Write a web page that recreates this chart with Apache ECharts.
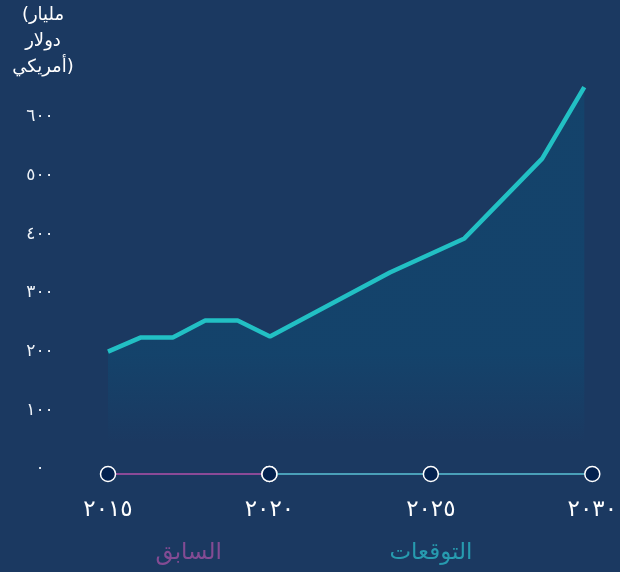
<!DOCTYPE html>
<html>
<head>
<meta charset="utf-8">
<script src="https://cdn.jsdelivr.net/npm/echarts@6/dist/echarts.min.js"></script>
<style>
html,body{margin:0;padding:0;background:#1b3961;}
#chart{width:620px;height:572px;}
</style>
</head>
<body>
<div id="chart"></div>
<script>
// ---- data ----
const years = [2015, 2016, 2017, 2018, 2019, 2020, 2023.7, 2026, 2028.4, 2029.7];
const values = [200, 224, 224, 253, 253, 226, 335, 393, 529, 651];
const timelineYears = [2015, 2020, 2025, 2030];
const pastRange = [2015, 2020];
const forecastRange = [2020, 2025, 2030];
const phaseNames = ['السابق', 'التوقعات'];
const yTickMax = 600;
const yTickStep = 100;
const yAxisTitle = '(مليار\nدولار\nأمريكي)';

const FONT = '"DejaVu Sans", "Noto Sans", sans-serif';
const toArabic = n => String(n).replace(/\d/g, d => '٠١٢٣٤٥٦٧٨٩'[+d]);

const chart = echarts.init(document.getElementById('chart'), null, {renderer: 'canvas'});

const mid = arr => (arr[0] + arr[arr.length - 1]) / 2;

const option = {
  backgroundColor: '#1b3961',
  animation: false,
  textStyle: {fontFamily: FONT},
  graphic: [{
    type: 'text',
    x: 43,
    y: 2,
    style: {
      text: yAxisTitle,
      fill: '#ffffff',
      font: '18px ' + FONT,
      align: 'center',
      verticalAlign: 'top',
      lineHeight: 26
    }
  }],
  grid: [
    {left: 108, right: 26, top: 117, bottom: 103},
    {left: 108, right: 26, top: 470, height: 8}
  ],
  xAxis: [
    {gridIndex: 0, type: 'value', min: 2015, max: 2030, show: false},
    {
      gridIndex: 1, type: 'value', min: 2015, max: 2030, interval: 5,
      axisLine: {show: false}, axisTick: {show: false}, splitLine: {show: false},
      axisLabel: {
        color: '#ffffff', fontSize: 23, fontWeight: 'normal', margin: 21,
        fontFamily: FONT,
        formatter: v => toArabic(v)
      }
    }
  ],
  yAxis: [
    {
      gridIndex: 0, type: 'value', min: 0, max: yTickMax, interval: yTickStep,
      axisLine: {show: false}, axisTick: {show: false}, splitLine: {show: false},
      axisLabel: {
        color: '#eef2f7', fontSize: 17, margin: 68, align: 'center',
        fontFamily: FONT,
        formatter: v => toArabic(v)
      }
    },
    {gridIndex: 1, type: 'value', min: -1, max: 1, show: false}
  ],
  series: [
    {
      type: 'line',
      xAxisIndex: 0, yAxisIndex: 0,
      data: years.map((y, i) => [y, values[i]]),
      symbol: 'none',
      clip: false,
      lineStyle: {color: '#22c0c4', width: 4.5},
      areaStyle: {
        color: new echarts.graphic.LinearGradient(0, 0, 0, 1, [
          {offset: 0, color: 'rgba(17,71,111,1)'},
          {offset: 0.7, color: 'rgba(17,71,111,1)'},
          {offset: 0.93, color: 'rgba(17,71,111,0)'}
        ])
      },
      z: 3
    },
    {
      type: 'line',
      xAxisIndex: 1, yAxisIndex: 1,
      data: pastRange.map(y => [y, 0]),
      symbol: 'circle', symbolSize: 15, clip: false,
      lineStyle: {color: '#8b4a97', width: 2},
      itemStyle: {color: '#03214f', borderColor: '#ffffff', borderWidth: 1.5},
      z: 4
    },
    {
      type: 'line',
      xAxisIndex: 1, yAxisIndex: 1,
      data: forecastRange.map(y => [y, 0]),
      symbol: 'circle', symbolSize: 15, clip: false,
      lineStyle: {color: '#4a9fb8', width: 2},
      itemStyle: {color: '#03214f', borderColor: '#ffffff', borderWidth: 1.5},
      z: 5
    },
    {
      type: 'scatter',
      xAxisIndex: 1, yAxisIndex: 1,
      symbolSize: 0, clip: false, silent: true,
      data: [
        {value: [mid(pastRange), 0], name: phaseNames[0], label: {color: '#9e50a0'}},
        {value: [mid(forecastRange), 0], name: phaseNames[1], label: {color: '#2ab4c3'}}
      ],
      label: {
        show: true, position: 'bottom', distance: 68,
        fontSize: 23, fontFamily: FONT,
        formatter: p => p.name
      }
    }
  ]
};

chart.setOption(option);
</script>
</body>
</html>
